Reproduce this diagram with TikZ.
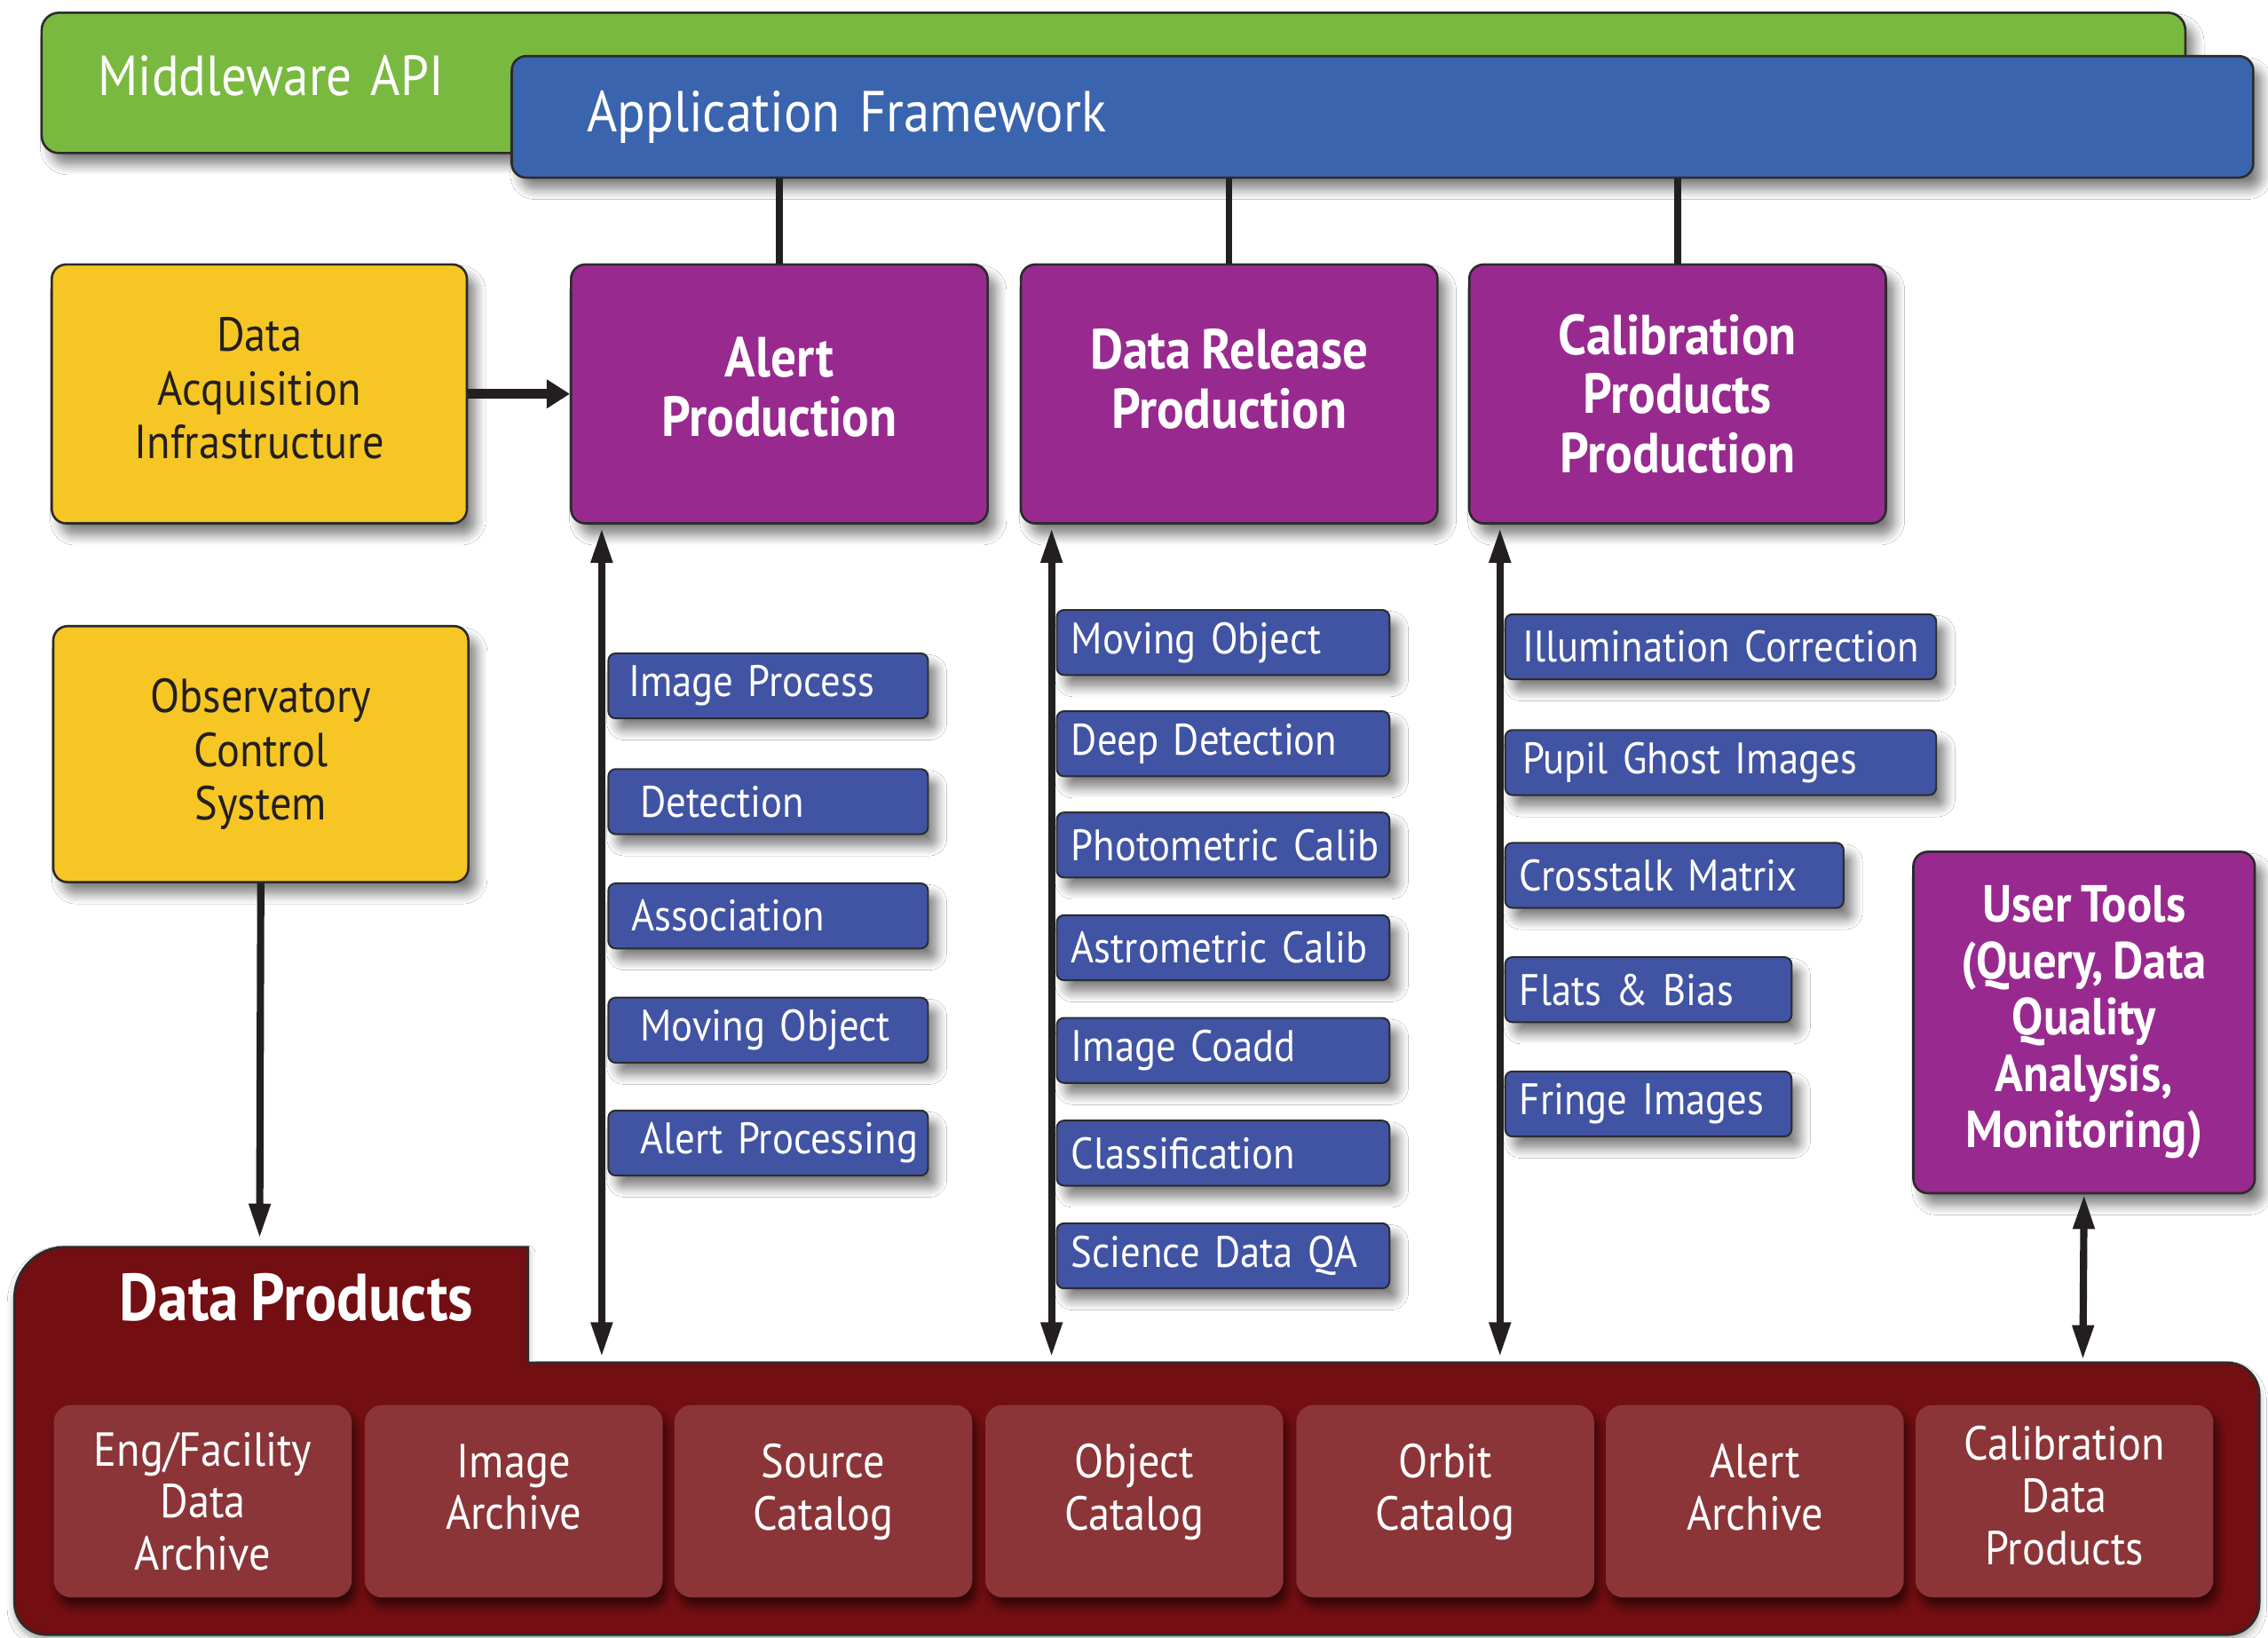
\documentclass[tikz,border=0pt]{standalone}
\usepackage{fontspec}
\setmainfont{PT Sans}[FakeStretch=0.9,WordSpace=0.8]
\usetikzlibrary{arrows.meta,shadows.blur}
\definecolor{mwgreen}{HTML}{7AB940}
\definecolor{afblue}{HTML}{3A64AD}
\definecolor{prodpurple}{HTML}{982A8F}
\definecolor{infoyellow}{HTML}{F6C624}
\definecolor{taskblue}{HTML}{4153A3}
\definecolor{dpred}{HTML}{730E12}
\definecolor{dpbox}{HTML}{8B3538}
\definecolor{edgegray}{HTML}{2B2B2B}
\definecolor{arrowblack}{HTML}{231F20}
\begin{document}
\begin{tikzpicture}[x=1pt,y=-1pt,
  sh/.style={blur shadow={shadow xshift=6pt,shadow yshift=-8pt,shadow blur radius=7pt,shadow blur steps=8,shadow opacity=50}},
  box/.style={draw=edgegray,line width=1.6pt,anchor=north west,inner sep=0pt,align=center,sh},
  prod/.style={box,fill=prodpurple,rounded corners=10pt,text=white,font=\bfseries\fontsize{39}{41}\selectfont},
  infobox/.style={box,fill=infoyellow,rounded corners=10pt,text=arrowblack,font=\fontsize{33}{37}\selectfont},
  task/.style={draw=edgegray,line width=1.2pt,fill=taskblue,rounded corners=5pt,anchor=north west,
    minimum height=45pt,inner ysep=0pt,inner xsep=10pt,align=left,text width=#1,text=white,
    font=\fontsize{30.5}{32}\selectfont,sh},
  dpb/.style={fill=dpbox,rounded corners=12pt,anchor=north west,minimum width=206pt,minimum height=133pt,
    inner sep=0pt,text=white,align=center,font=\fontsize{33}{36}\selectfont,
    blur shadow={shadow xshift=3pt,shadow yshift=-6pt,shadow blur radius=5pt,shadow blur steps=6,shadow opacity=55}},
  arr/.style={draw=arrowblack,line width=5pt},
  dbl/.style={arr,{Triangle[length=24pt,width=14pt]}-{Triangle[length=24pt,width=14pt]}}
]
\fill[white] (0,0) rectangle (1568,1132);
\useasboundingbox (0,0) rectangle (1568,1132);

% top bars
\node[box,fill=mwgreen,rounded corners=12pt,minimum width=1482pt,minimum height=97pt,
  inner xsep=39pt,text width=1404pt,align=left,text=white,font=\fontsize{39}{38}\selectfont]
  (mw) at (28,8) {Middleware API\\[-28pt]\mbox{}};
\node[box,fill=afblue,rounded corners=10pt,minimum width=1204pt,minimum height=84pt,
  inner xsep=52pt,text width=1100pt,align=left,text=white,font=\fontsize{40}{42}\selectfont]
  (af) at (353,38) {Application Framework};

% production boxes
\node[prod,minimum width=288pt,minimum height=179pt] (ap) at (394,182) {Alert\\Production\\[-31pt]\mbox{}};
\node[prod,minimum width=288pt,minimum height=179pt] (dr) at (705,182) {Data Release\\Production\\[-20pt]\mbox{}};
\node[prod,minimum width=288pt,minimum height=179pt] (cp) at (1015,182) {Calibration\\Products\\Production};

\draw[arr,line width=4.5pt] (af.south -| ap.north) -- (ap.north);
\draw[arr,line width=4.5pt] (af.south -| dr.north) -- (dr.north);
\draw[arr,line width=4.5pt] (af.south -| cp.north) -- (cp.north);

% yellow boxes
\node[infobox,minimum width=287pt,minimum height=179pt] (daq) at (35,182) {Data\\Acquisition\\Infrastructure\\[-29pt]\mbox{}};
\node[infobox,minimum width=287pt,minimum height=177pt] (ocs) at (36,432) {Observatory\\Control\\System};

\draw[draw=arrowblack,line width=6.5pt,-{Triangle[length=16pt,width=19pt]}] (daq.east) -- (ap.west);

% data products body
\path[fill=dpred,draw=edgegray,line width=1.6pt,rounded corners=35pt,
  blur shadow={shadow xshift=0pt,shadow yshift=-4pt,shadow blur radius=5pt,shadow opacity=35}]
  (10,1000) -- (10,862) -- (200,862) [sharp corners] -- (365,862) -- (365,942) -- (800,942)
  [rounded corners=22pt] -- (1562,942) -- (1562,1130) -- (800,1130) -- (10,1130) -- cycle;
\node[text=white,font=\bfseries\fontsize{46}{48}\selectfont] (dpt) at (205,897) {Data Products};

\coordinate (ocsend) at (179.5,856);
\draw[arr,-{Triangle[length=24pt,width=14pt]}] (ocs.south) -- (ocsend);

% vertical double arrows
\coordinate (v1t) at (416,365); \coordinate (v1b) at (416,938);
\coordinate (v2t) at (727,365); \coordinate (v2b) at (727,938);
\coordinate (v3t) at (1037,365); \coordinate (v3b) at (1037,938);
\draw[dbl] (v1t) -- (v1b);
\draw[dbl] (v2t) -- (v2b);
\draw[dbl] (v3t) -- (v3b);

% alert production tasks
\node[task=197pt,inner xsep=12pt] (a1) at (420,451) {\mbox{\hspace{2pt}Image Process}};
\node[task=197pt,inner xsep=12pt] (a2) at (420,531) {\mbox{\hspace{10pt}Detection}};
\node[task=197pt,inner xsep=12pt] (a3) at (420,610) {\mbox{\hspace{4pt}Association}};
\node[task=197pt,inner xsep=12pt] (a4) at (420,689) {\mbox{\hspace{10pt}Moving Object}};
\node[task=197pt,inner xsep=12pt] (a5) at (420,767) {\mbox{\hspace{10pt}Alert Processing}};

% data release tasks
\node[task=210pt] (d1) at (730,421) {\mbox{Moving Object}};
\node[task=210pt] (d2) at (730,491) {\mbox{Deep Detection}};
\node[task=210pt] (d3) at (730,561) {\mbox{Photometric Calib}};
\node[task=210pt] (d4) at (730,632) {\mbox{Astrometric Calib}};
\node[task=210pt] (d5) at (730,703) {\mbox{Image Coadd}};
\node[task=210pt] (d6) at (730,774) {\mbox{Classification}};
\node[task=210pt] (d7) at (730,845) {\mbox{Science Data QA}};

% calibration tasks
\node[task=278pt] (c1) at (1040,424) {\mbox{\hspace{2pt}Illumination Correction}};
\node[task=278pt] (c2) at (1040,504) {\mbox{\hspace{2pt}Pupil Ghost Images}};
\node[task=214pt] (c3) at (1040,582) {\mbox{Crosstalk Matrix}};
\node[task=178pt] (c4) at (1040,661) {\mbox{Flats \& Bias}};
\node[task=178pt] (c5) at (1040,740) {\mbox{Fringe Images}};

% user tools
\node[prod,minimum width=236pt,minimum height=236pt,font=\bfseries\fontsize{36}{39}\selectfont]
  (ut) at (1322,588) {User Tools\\(Query, Data\\Quality\\Analysis,\\Monitoring)};
\coordinate (utend) at (1440,940);
\draw[dbl] (ut.south) -- (utend);

% data product boxes
\node[dpb] (p1) at (37,971) {Eng/Facility\\Data\\Archive};
\node[dpb] (p2) at (252,971) {Image\\Archive\\[-16pt]\mbox{}};
\node[dpb] (p3) at (466,971) {Source\\Catalog\\[-16pt]\mbox{}};
\node[dpb] (p4) at (681,971) {Object\\Catalog\\[-16pt]\mbox{}};
\node[dpb] (p5) at (896,971) {Orbit\\Catalog\\[-16pt]\mbox{}};
\node[dpb] (p6) at (1110,971) {Alert\\Archive\\[-16pt]\mbox{}};
\node[dpb] (p7) at (1324,971) {Calibration\\Data\\Products\\[-28pt]\mbox{}};
\end{tikzpicture}
\end{document}
